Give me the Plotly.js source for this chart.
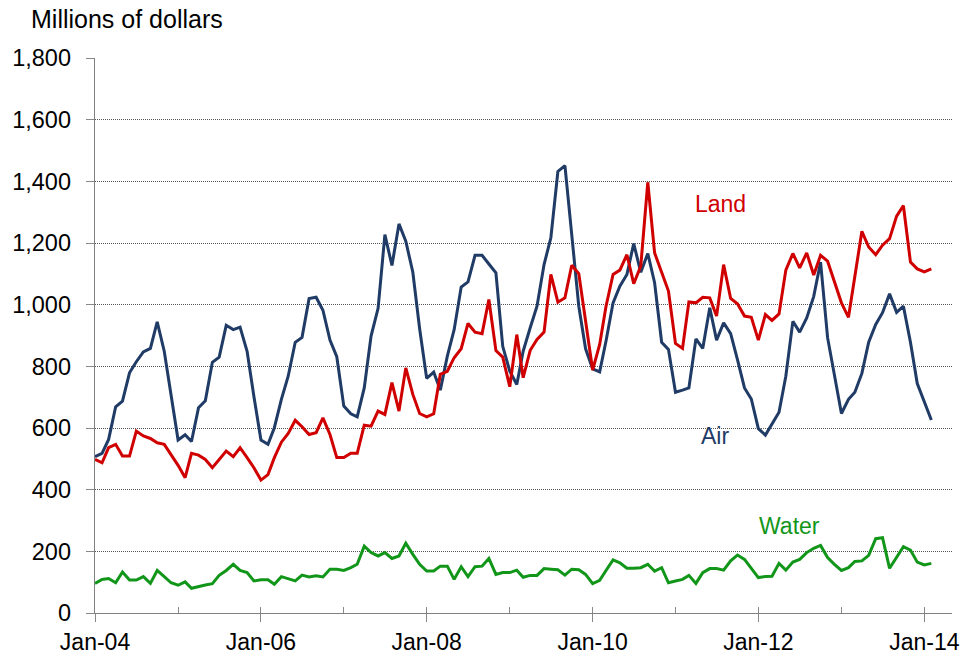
<!DOCTYPE html>
<html>
<head>
<meta charset="utf-8">
<script src="https://cdn.plot.ly/plotly-3.0.1.min.js"></script>
<style>html,body{margin:0;padding:0;background:#fff;}#chart{width:963px;height:660px;}</style>
</head>
<body>
<div id="chart"></div>
<script>
// Monthly values, Jan-2004 .. Feb-2014 (millions of dollars)
const startMonth = '2004-01';
const air = [
  507,518,563,669,687,779,815,847,858,944,
  849,700,561,578,556,666,688,813,830,933,
  919,927,849,702,561,547,601,693,768,878,
  894,1020,1024,982,885,831,671,646,636,730,
  898,988,1227,1127,1262,1206,1105,922,761,781,
  723,833,919,1057,1074,1160,1160,1132,1103,865,
  784,741,849,925,995,1130,1217,1432,1451,1227,
  995,857,792,782,882,1006,1060,1098,1198,1105,
  1166,1071,878,855,716,723,730,889,858,990,
  885,941,906,822,730,694,598,577,615,651,
  768,946,911,957,1027,1138,893,768,647,693,
  716,777,878,936,974,1035,975,995,878,744,
  682,626
];
const land = [
  498,487,536,547,509,509,590,574,566,552,
  547,514,479,439,518,512,498,471,498,525,
  507,536,504,471,431,449,504,554,582,625,
  604,579,585,633,579,504,504,518,518,609,
  606,655,644,747,655,795,709,647,636,646,
  774,784,828,857,939,911,906,1017,851,830,
  734,903,763,852,887,911,1098,1008,1022,1128,
  1101,941,788,871,995,1098,1112,1162,1068,1125,
  1397,1168,1103,1044,874,858,1009,1006,1024,1022,
  963,1130,1020,1003,963,959,885,968,949,970,
  1112,1166,1119,1168,1096,1160,1141,1073,1006,959,
  1087,1238,1187,1162,1193,1214,1287,1321,1138,1116,
  1106,1116
];
const water = [
  96,109,112,98,133,107,107,118,96,138,
  118,98,90,101,80,86,91,95,122,138,
  158,138,131,104,108,108,93,118,112,104,
  123,117,121,117,142,142,138,147,158,217,
  196,185,196,177,185,226,190,158,136,136,
  152,152,109,150,118,150,152,177,125,131,
  131,139,116,122,122,144,142,140,123,142,
  140,125,95,106,138,172,163,145,145,147,
  158,136,147,98,104,109,122,96,131,144,
  144,139,169,188,174,145,115,118,119,161,
  139,165,174,196,210,219,180,158,138,147,
  167,169,187,241,244,145,180,215,204,165,
  156,161
];
const seriesNames = ['Air', 'Land', 'Water'];
const yTickVals = [0,200,400,600,800,1000,1200,1400,1600,1800];
const yTickText = ['0','200','400','600','800','1,000','1,200','1,400','1,600','1,800'];

// month categories
const y0 = parseInt(startMonth.slice(0,4)), mo0 = parseInt(startMonth.slice(5,7)) - 1;
const months = air.map((_, i) => {
  const t = mo0 + i;
  const yy = y0 + Math.floor(t / 12), mm = (t % 12) + 1;
  return yy + '-' + String(mm).padStart(2,'0') + '-01';
});

const FONT = 'Liberation Sans, Arial, sans-serif';
const colors = {Air: '#1F3B66', Land: '#D00000', Water: '#12961A'};

const traces = [
  {x: months, y: air, name: seriesNames[0], type: 'scatter', mode: 'lines',
   line: {color: colors.Air, width: 3}},
  {x: months, y: land, name: seriesNames[1], type: 'scatter', mode: 'lines',
   line: {color: colors.Land, width: 3}},
  {x: months, y: water, name: seriesNames[2], type: 'scatter', mode: 'lines',
   line: {color: colors.Water, width: 3}},
  // invisible trace for the secondary tick axis
  {x: months, y: water, xaxis: 'x2', type: 'scatter', mode: 'lines',
   line: {width: 0}, hoverinfo: 'skip', showlegend: false, opacity: 0}
];

const xRange = ['2004-01-01', '2014-05-03'];

const layout = {
  width: 963, height: 660,
  margin: {l: 95, r: 11, t: 58, b: 47},
  paper_bgcolor: '#fff', plot_bgcolor: '#fff',
  showlegend: false,
  font: {family: FONT, size: 22, color: '#000'},
  title: {text: 'Millions of dollars', font: {family: FONT, size: 25, color: '#000'},
          xref: 'container', x: 31/963, xanchor: 'left',
          yref: 'container', y: 1 - 19/660, yanchor: 'middle'},
  xaxis: {
    type: 'date', range: xRange,
    tick0: '2004-01-01', dtick: 'M24', tickformat: '%b-%y',
    ticks: 'outside', ticklen: 8, tickwidth: 1, tickcolor: '#888',
    showline: true, linecolor: '#808080', linewidth: 1.3,
    showgrid: false, zeroline: false,
    tickfont: {family: FONT, size: 23, color: '#000'},
    fixedrange: true
  },
  xaxis2: {
    type: 'date', range: xRange, overlaying: 'x', anchor: 'y', side: 'bottom',
    tick0: '2004-01-01', dtick: 'M12',
    ticks: 'inside', ticklen: 6, tickwidth: 1, tickcolor: '#888',
    showticklabels: false, showline: false, showgrid: false, zeroline: false
  },
  yaxis: {
    range: [0, 1800], tickvals: yTickVals, ticktext: yTickText,
    ticks: 'outside', ticklen: 8, tickwidth: 1, tickcolor: '#888',
    ticklabelstandoff: 10,
    showline: true, linecolor: '#808080', linewidth: 1.3,
    showgrid: true, gridcolor: '#555', gridwidth: 1, griddash: '1px,1px',
    zeroline: false,
    tickfont: {family: FONT, size: 23.5, color: '#000'},
    fixedrange: true
  },
  annotations: [
    {text: 'Land', x: '2011-07-20', y: 1325, xref: 'x', yref: 'y', showarrow: false,
     font: {family: FONT, size: 23, color: colors.Land}, xanchor: 'center', yanchor: 'middle'},
    {text: 'Air', x: '2011-06-25', y: 573, xref: 'x', yref: 'y', showarrow: false,
     font: {family: FONT, size: 23, color: colors.Air}, xanchor: 'center', yanchor: 'middle'},
    {text: 'Water', x: '2012-05-15', y: 281, xref: 'x', yref: 'y', showarrow: false,
     font: {family: FONT, size: 23, color: colors.Water}, xanchor: 'center', yanchor: 'middle'}
  ]
};

Plotly.newPlot('chart', traces, layout, {staticPlot: true, displayModeBar: false});
</script>
</body>
</html>
